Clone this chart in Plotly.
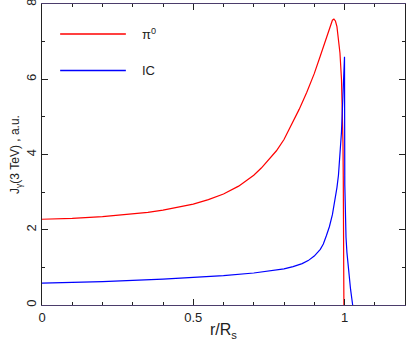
import plotly.graph_objects as go

# pi0 curve
r_pi0 = [0, 0.1, 0.2, 0.3, 0.35, 0.4, 0.45, 0.5, 0.55, 0.6, 0.65, 0.7, 0.725, 0.75, 0.775, 0.8,
         0.825, 0.85, 0.875, 0.9, 0.92, 0.94, 0.95, 0.955, 0.96, 0.965, 0.97, 0.975, 0.98, 0.985,
         0.99, 0.993, 0.995, 0.996, 0.997, 0.998]
j_pi0 = [2.28, 2.30, 2.35, 2.42, 2.46, 2.52, 2.59, 2.68, 2.8, 2.95, 3.16, 3.45, 3.64, 3.86, 4.1, 4.4,
         4.78, 5.2, 5.65, 6.15, 6.62, 7.1, 7.35, 7.48, 7.57, 7.6, 7.55, 7.4, 7.12, 6.7,
         6.0, 5.2, 4.3, 3.3, 1.8, 0.0]

# IC curve
r_ic = [0, 0.2, 0.4, 0.5, 0.6, 0.7, 0.75, 0.8, 0.83, 0.86, 0.88, 0.9, 0.92, 0.93, 0.94, 0.95,
        0.96, 0.97, 0.975, 0.98, 0.985, 0.99, 0.993, 0.996, 0.999, 1.0, 1.001, 1.002, 1.005,
        1.008, 1.012, 1.016, 1.02, 1.024, 1.027]
j_ic = [0.58, 0.62, 0.69, 0.73, 0.78, 0.85, 0.9, 0.96, 1.02, 1.1, 1.18, 1.3, 1.48, 1.62, 1.84, 2.08,
        2.4, 2.85, 3.12, 3.45, 3.95, 4.6, 5.2, 5.9, 6.6, 6.6, 3.2, 2.4, 1.8,
        1.4, 1.0, 0.7, 0.42, 0.18, 0.0]

x_ticks = [0, 0.5, 1]
x_labels = ["0", "0.5", "1"]
y_ticks = [0, 2, 4, 6, 8]
y_labels = ["0", "2", "4", "6", "8"]
legend_names = ["π<sup>0</sup>", "IC"]
colors = ["#ff0000", "#0000ff"]

fig = go.Figure()
fig.add_trace(go.Scatter(x=r_pi0, y=j_pi0, mode="lines", line=dict(color=colors[0], width=1.2),
                         showlegend=False, hoverinfo="skip"))
fig.add_trace(go.Scatter(x=r_ic, y=j_ic, mode="lines", line=dict(color=colors[1], width=1.2),
                         showlegend=False, hoverinfo="skip"))

font = dict(family="Liberation Sans, Arial, sans-serif", size=13, color="#222222")

# manual legend
leg_y = [0.9003, 0.7791]
for name, col, yy in zip(legend_names, colors, leg_y):
    fig.add_shape(type="line", xref="paper", yref="paper", x0=0.05, x1=0.231, y0=yy, y1=yy,
                  layer="above", line=dict(color=col, width=1.5))
    fig.add_annotation(xref="paper", yref="paper", x=0.27, y=yy, text=name, showarrow=False,
                       xanchor="left", yanchor="middle", font=font)

fig.update_layout(
    width=407, height=347,
    margin=dict(l=42, r=2, t=4, b=42, autoexpand=False),
    plot_bgcolor="white", paper_bgcolor="white",
    font=font,
    xaxis=dict(range=[0, 1.2], tickvals=x_ticks, ticktext=x_labels, ticks="inside", ticklen=6,
               tickcolor="#222", showline=True, linecolor="#4b3d6b", linewidth=1, mirror="ticks",
               showgrid=False, zeroline=False, automargin=False, ticklabeloverflow="allow",
               minor=dict(dtick=0.1, ticks="inside", ticklen=3, tickcolor="#222", showgrid=False),
               title=dict(text="r/R<sub>s</sub>", standoff=0)),
    yaxis=dict(range=[0, 8.001], tickvals=y_ticks, ticktext=y_labels, ticks="inside", ticklen=6,
               tickcolor="#222", showline=True, linecolor="#222", linewidth=1, mirror="ticks",
               showgrid=False, zeroline=False, tickangle=-90, automargin=False,
               ticklabeloverflow="allow",
               minor=dict(dtick=1, ticks="inside", ticklen=3, tickcolor="#222", showgrid=False),
               title=dict(text="J<sub>γ</sub>(3 TeV) , a.u.", standoff=0,
                          font=dict(family="Liberation Sans, Arial, sans-serif", size=12,
                                    color="#222222"))),
)

fig.write_html("out.html", config={"displayModeBar": False, "staticPlot": True},
               post_script="document.body.style.margin='0';document.body.style.overflow='hidden';")
